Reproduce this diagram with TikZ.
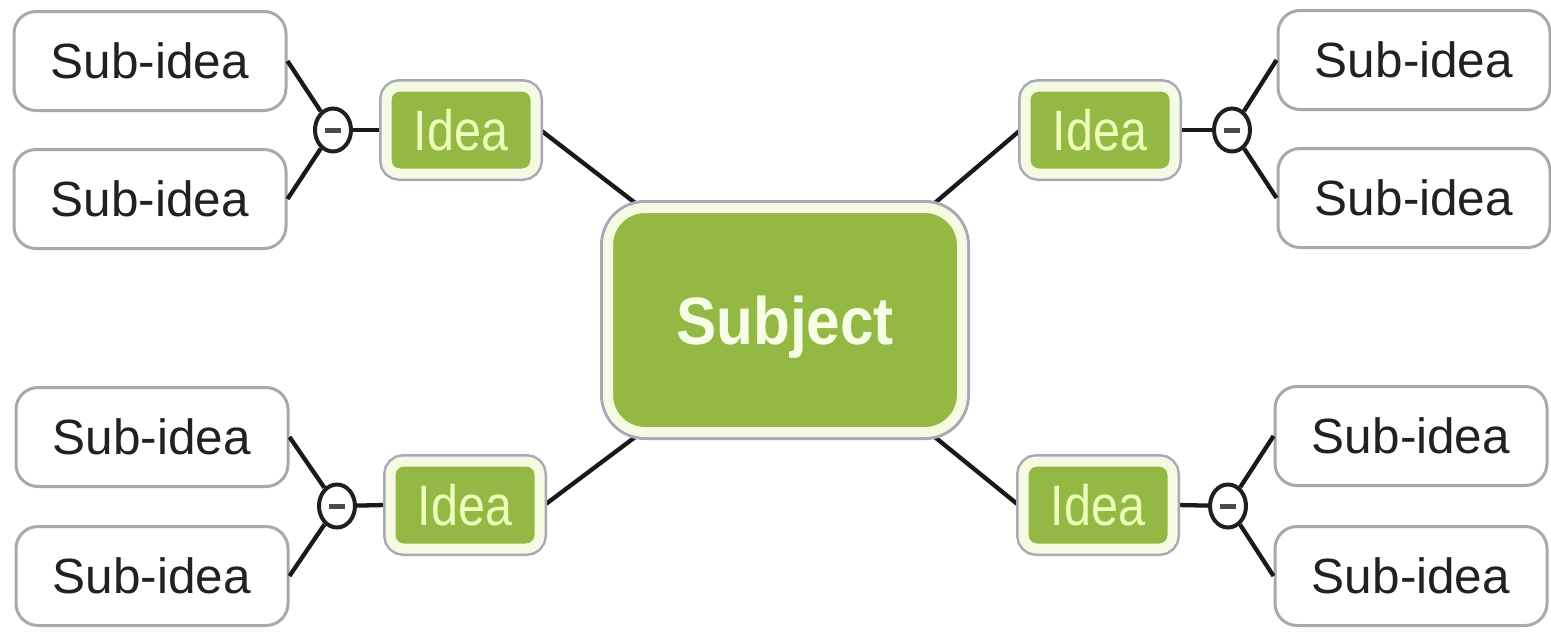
\documentclass[tikz,border=0pt]{standalone}
\usepackage{fontspec}
\setmainfont{Liberation Sans}
\newfontfamily\ideafont[FakeStretch=0.85]{Liberation Sans}
\newfontfamily\subjfont[FakeStretch=0.9]{Liberation Sans Bold}
\usetikzlibrary{backgrounds,shapes.geometric}
\definecolor{mmgreen}{HTML}{93B944}
\definecolor{mmcream}{HTML}{F4FBE2}
\definecolor{mmring}{HTML}{A8A8B6}
\definecolor{subborder}{HTML}{A9A9A9}
\definecolor{ideatext}{HTML}{EDFFB8}
\definecolor{subjtext}{HTML}{F6FFE6}
\begin{document}
\begin{tikzpicture}[x=1pt,y=-1pt,
  subbox/.style={draw=subborder, line width=3pt, fill=white, rounded corners=22pt,
    minimum width=272pt, minimum height=99pt, inner sep=0pt, text=black!87,
    font=\fontsize{49.5}{58}\selectfont},
  ideabox/.style={fill=mmgreen, draw=mmcream, line width=10pt, rounded corners=13pt,
    preaction={draw=mmring, line width=15pt},
    minimum width=149pt, minimum height=87pt, inner sep=0pt, text=ideatext,
    font=\ideafont\fontsize{57}{64}\selectfont},
  subjbox/.style={fill=mmgreen, draw=mmcream, line width=10pt, rounded corners=37pt,
    preaction={draw=mmring, line width=16pt},
    minimum width=354pt, minimum height=224pt, inner sep=0pt, text=subjtext,
    font=\subjfont\fontsize{67}{72}\selectfont, text height=48pt, text depth=0pt},
  collapse/.style={ellipse, draw=black!88, line width=4pt, fill=white,
    minimum width=36pt, minimum height=43pt, inner sep=0pt,
    path picture={\draw[line width=5pt, black!70] ([xshift=-8pt]path picture bounding box.center) -- ([xshift=8pt]path picture bounding box.center);}},
  conn/.style={draw=black!90, line width=4.3pt}
]
\useasboundingbox (0,0) rectangle (1551,632);
\begin{scope}[on background layer]
  \fill[white] (0,0) rectangle (1551,632);
\end{scope}

% central subject
\node[subjbox] (subj) at (785,320) {Subject};

% ideas
\node[ideabox] (iTL) at (461,130) {Idea};
\node[ideabox] (iTR) at (1100,130) {Idea};
\node[ideabox] (iBL) at (465,505) {Idea};
\node[ideabox] (iBR) at (1098,505) {Idea};

% collapse circles
\node[collapse] (cTL) at (333,130) {};
\node[collapse] (cTR) at (1232,130) {};
\node[collapse] (cBL) at (337,506) {};
\node[collapse] (cBR) at (1228,506) {};

% sub-ideas
\node[subbox] (sTL1) at (150,61) {Sub-idea};
\node[subbox] (sTL2) at (150,199) {Sub-idea};
\node[subbox] (sTR1) at (1414,60) {Sub-idea};
\node[subbox] (sTR2) at (1414,198) {Sub-idea};
\node[subbox] (sBL1) at (152,437) {Sub-idea};
\node[subbox] (sBL2) at (152,576) {Sub-idea};
\node[subbox] (sBR1) at (1411,436) {Sub-idea};
\node[subbox] (sBR2) at (1411,576) {Sub-idea};

\begin{scope}[on background layer]
  \draw[conn] (iTL.east) -- (subj.142);
  \draw[conn] (iTR.west) -- (subj.38);
  \draw[conn] (iBL.east) -- (subj.218);
  \draw[conn] (iBR.west) -- (subj.322);
  \draw[conn] (iTL.west) -- (cTL);
  \draw[conn] (iTR.east) -- (cTR);
  \draw[conn] (iBL.west) -- (cBL);
  \draw[conn] (iBR.east) -- (cBR);
\end{scope}
\draw[conn] (cTL) -- (sTL1.east);
\draw[conn] (cTL) -- (sTL2.east);
\draw[conn] (cTR) -- (sTR1.west);
\draw[conn] (cTR) -- (sTR2.west);
\draw[conn] (cBL) -- (sBL1.east);
\draw[conn] (cBL) -- (sBL2.east);
\draw[conn] (cBR) -- (sBR1.west);
\draw[conn] (cBR) -- (sBR2.west);
\end{tikzpicture}
\end{document}
